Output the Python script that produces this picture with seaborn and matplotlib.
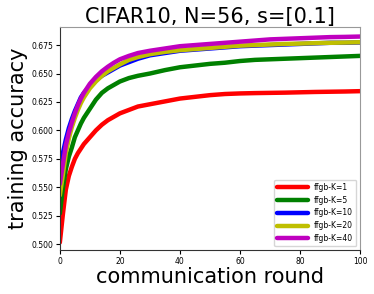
import pandas as pd
import numpy as np
import matplotlib
matplotlib.use('Agg')
import matplotlib.pyplot as plt
import seaborn as sns

sns.set_style('ticks')
plt.rcParams.update({'text.color': 'black', 'axes.labelcolor': 'black'})

rounds = [0, 1, 2, 3, 4, 5, 6, 7, 8, 9, 10, 12, 14, 16, 18, 20, 23, 26, 30, 35,
          40, 45, 50, 55, 60, 65, 70, 75, 80, 85, 90, 95, 100]

acc_k1 = [0.5015, 0.526, 0.548, 0.560, 0.568, 0.575, 0.580, 0.584, 0.588, 0.591,
          0.594, 0.600, 0.605, 0.609, 0.612, 0.615, 0.618, 0.621, 0.623, 0.6255,
          0.628, 0.6295, 0.631, 0.632, 0.6325, 0.6328, 0.633, 0.6332, 0.6335,
          0.6338, 0.634, 0.6342, 0.6345]
acc_k5 = [0.527, 0.549, 0.566, 0.577, 0.585, 0.594, 0.600, 0.606, 0.611, 0.615,
          0.619, 0.627, 0.633, 0.637, 0.640, 0.643, 0.646, 0.648, 0.650, 0.653,
          0.6555, 0.657, 0.6585, 0.6595, 0.661, 0.662, 0.6625, 0.663, 0.6635,
          0.664, 0.6645, 0.665, 0.6655]
acc_k10 = [0.567, 0.580, 0.592, 0.602, 0.610, 0.617, 0.623, 0.629, 0.633, 0.636,
           0.639, 0.644, 0.648, 0.651, 0.654, 0.657, 0.660, 0.663, 0.666, 0.668,
           0.670, 0.671, 0.672, 0.673, 0.674, 0.6745, 0.675, 0.6755, 0.676,
           0.6765, 0.677, 0.677, 0.6773]
acc_k20 = [0.543, 0.561, 0.580, 0.593, 0.603, 0.611, 0.618, 0.624, 0.629, 0.633,
           0.637, 0.643, 0.648, 0.652, 0.655, 0.658, 0.662, 0.6645, 0.667, 0.669,
           0.6705, 0.6715, 0.6725, 0.6735, 0.6745, 0.675, 0.6755, 0.676, 0.6763,
           0.6767, 0.677, 0.6772, 0.6775]
acc_k40 = [0.553, 0.570, 0.587, 0.598, 0.607, 0.615, 0.622, 0.628, 0.633, 0.637,
           0.641, 0.647, 0.652, 0.656, 0.6595, 0.6625, 0.6655, 0.668, 0.670, 0.672,
           0.674, 0.675, 0.676, 0.677, 0.678, 0.679, 0.680, 0.6805, 0.681, 0.6815,
           0.682, 0.6822, 0.6825]

labels = ['ffgb-K=1', 'ffgb-K=5', 'ffgb-K=10', 'ffgb-K=20', 'ffgb-K=40']
colors = ['r', 'g', 'b', 'y', 'm']

frames = []
for lab, acc in zip(labels, [acc_k1, acc_k5, acc_k10, acc_k20, acc_k40]):
    frames.append(pd.DataFrame({'round': rounds, 'acc': acc, 'method': lab}))
df = pd.concat(frames, ignore_index=True)

fig, ax = plt.subplots(figsize=(3.74, 2.94), dpi=100)
fig.subplots_adjust(left=0.160, right=0.963, top=0.909, bottom=0.150)

sns.lineplot(data=df, x='round', y='acc', hue='method', hue_order=labels,
             palette=dict(zip(labels, colors)), linewidth=3.2, ax=ax)

ax.set_xlim(0, 100)
ax.set_ylim(0.495, 0.6911)
ax.set_xticks([0, 20, 40, 60, 80, 100])
ax.set_yticks(np.arange(0.5, 0.676, 0.025))
ax.yaxis.set_major_formatter(matplotlib.ticker.FormatStrFormatter('%.3f'))
ax.tick_params(labelsize=5.5, length=3, width=0.8, colors='black', pad=2)
for sp in ax.spines.values():
    sp.set_color('#333333')
ax.spines['right'].set_color('#999999')
ax.spines['top'].set_color('#999999')

ax.set_xlabel('communication round', fontsize=15, labelpad=1)
ax.set_ylabel('training accuracy', fontsize=15, labelpad=2)
ax.set_title('CIFAR10, N=56, s=[0.1]', fontsize=15, pad=3)

ax.legend(loc='lower right', fontsize=5.5, handlelength=4, title=None)

plt.savefig('out.png', dpi=100)
